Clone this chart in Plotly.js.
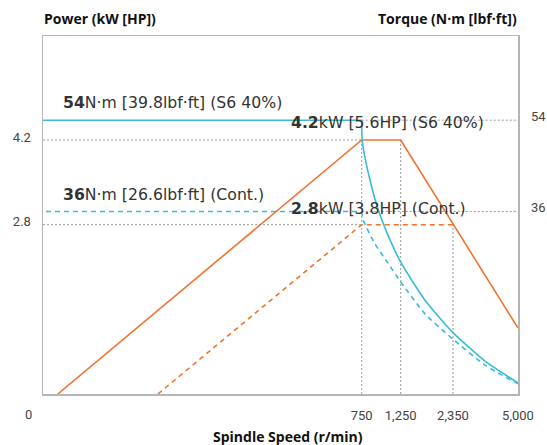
<!DOCTYPE html>
<html>
<head>
<meta charset="utf-8">
<script src="https://cdn.plot.ly/plotly-3.0.1.min.js"></script>
<style>html,body{margin:0;padding:0;background:#fff}#chart{width:547px;height:445px}</style>
</head>
<body>
<div id="chart"></div>
<script>
// ---- data ----
const tickSpeeds = [0, 750, 1250, 2350, 5000];
const tickLabels = ['0', '750', '1,250', '2,350', '5,000'];
// display scale of the (broken) speed axis, one position per tick speed
const tickScalePos = [0, 333.7, 372.7, 425, 490];

const powerTicks = [2.8, 4.2];
const torqueTicks = [36, 54];

// Power (kW) S6 40%
const powerS6Speed = [67, 750, 1250, 5000];
const powerS6Value = [0, 4.2, 4.2, 1.09];
// Power (kW) continuous
const powerContSpeed = [292, 750, 2350];
const powerContValue = [0, 2.8, 2.8];

// Torque (N·m) S6 40%
const torqueS6FlatSpeed = [0, 750];
const torqueS6FlatValue = [54, 54];
const torqueS6Speed = [750, 758, 856, 963, 1113, 1250, 1761, 2350, 3655, 5000];
const torqueS6Value = [54, 49.8, 42.2, 36.3, 30.4, 26.0, 18.5, 12.1, 6.5, 2.2];
// Torque (N·m) continuous
const torqueContFlatSpeed = [0, 750];
const torqueContFlatValue = [36, 36];
const torqueContSpeed = [750, 770, 920, 1087, 1250, 1761, 2350, 3655, 5000];
const torqueContValue = [36, 34.3, 29.6, 25.8, 22.1, 15.8, 10.8, 5.7, 2.0];

const labelTexts = [
  '<b>54</b>N·m [39.8lbf·ft] (S6 40%)',
  '<b>4.2</b>kW [5.6HP] (S6 40%)',
  '<b>36</b>N·m [26.6lbf·ft] (Cont.)',
  '<b>2.8</b>kW [3.8HP] (Cont.)'
];

// ---- scale for the broken axis ----
function toPos(s) {
  const a = tickSpeeds, p = tickScalePos;
  let i = 0;
  while (i < a.length - 2 && s > a[i + 1]) i++;
  return p[i] + (s - a[i]) / (a[i + 1] - a[i]) * (p[i + 1] - p[i]);
}
const P = arr => arr.map(toPos);

const cyan = '#38BDD6';
const orange = '#F2722E';
const FONT = '"Open Sans", Roboto, sans-serif';
const LABELFONT = '"DejaVu Sans", "Open Sans", sans-serif';
const TICKFONT = 'Roboto, "Open Sans", sans-serif';

const traces = [
  {x: P(powerS6Speed), y: powerS6Value, yaxis: 'y', mode: 'lines', line: {color: orange, width: 1.6}},
  {x: P(powerContSpeed), y: powerContValue, yaxis: 'y', mode: 'lines', line: {color: orange, width: 1.6, dash: '5px,4px'}},
  {x: P(torqueS6FlatSpeed), y: torqueS6FlatValue, yaxis: 'y2', mode: 'lines', line: {color: cyan, width: 1.6}},
  {x: P(torqueS6Speed), y: torqueS6Value, yaxis: 'y2', mode: 'lines', line: {color: cyan, width: 1.6, shape: 'spline', smoothing: 0.6}},
  {x: P(torqueContFlatSpeed), y: torqueContFlatValue, yaxis: 'y2', mode: 'lines', line: {color: cyan, width: 1.6, dash: '5px,4px'}},
  {x: P(torqueContSpeed), y: torqueContValue, yaxis: 'y2', mode: 'lines', line: {color: cyan, width: 1.6, dash: '5px,4px', shape: 'spline', smoothing: 0.6}}
];

const dot = {color: '#9a9a9a', width: 1, dash: '2px,2px'};
const xMin = 15, xMax = 490;
const shapes = [
  {type: 'line', xref: 'x', yref: 'y', x0: xMin, x1: toPos(750), y0: powerTicks[1], y1: powerTicks[1], line: dot, layer: 'below'},
  {type: 'line', xref: 'x', yref: 'y', x0: xMin, x1: toPos(750), y0: powerTicks[0], y1: powerTicks[0], line: dot, layer: 'below'},
  {type: 'line', xref: 'x', yref: 'y2', x0: toPos(750), x1: xMax, y0: torqueTicks[1], y1: torqueTicks[1], line: dot, layer: 'below'},
  {type: 'line', xref: 'x', yref: 'y2', x0: toPos(750), x1: xMax, y0: torqueTicks[0], y1: torqueTicks[0], line: dot, layer: 'below'},
  {type: 'line', xref: 'x', yref: 'y', x0: toPos(750), x1: toPos(750), y0: 0, y1: powerS6Value[1], line: dot, layer: 'below'},
  {type: 'line', xref: 'x', yref: 'y', x0: toPos(1250), x1: toPos(1250), y0: 0, y1: powerS6Value[2], line: dot, layer: 'below'},
  {type: 'line', xref: 'x', yref: 'y', x0: toPos(2350), x1: toPos(2350), y0: 0, y1: powerContValue[2], line: dot, layer: 'below'}
];

const txt = {family: LABELFONT, size: 15.7, color: '#333'};
const ttl = {family: FONT, size: 14, color: '#111'};
const annotations = [
  {text: '<b>Power (kW [HP])</b>', xref: 'paper', yref: 'paper', x: 0, y: 1, xanchor: 'left', yanchor: 'bottom', yshift: 7, showarrow: false, font: ttl},
  {text: '<b>Torque (N·m [lbf·ft])</b>', xref: 'paper', yref: 'paper', x: 1, y: 1, xanchor: 'right', yanchor: 'bottom', yshift: 7, showarrow: false, font: ttl},
  {text: '<b>Spindle Speed (r/min)</b>', xref: 'paper', yref: 'paper', x: 0.516, y: 0, xanchor: 'center', yanchor: 'middle', yshift: -42, showarrow: false, font: ttl},
  {text: tickLabels[0], xref: 'paper', yref: 'paper', x: 0, y: 0, xanchor: 'center', yanchor: 'middle', xshift: -15, yshift: -20, showarrow: false, font: {family: TICKFONT, size: 13, color: '#444'}},
  {text: labelTexts[0], xref: 'paper', yref: 'paper', x: 0.04, y: 0.813, xanchor: 'left', yanchor: 'middle', showarrow: false, font: txt},
  {text: labelTexts[1], xref: 'paper', yref: 'paper', x: 0.521, y: 0.758, xanchor: 'left', yanchor: 'middle', showarrow: false, font: txt},
  {text: labelTexts[2], xref: 'paper', yref: 'paper', x: 0.04, y: 0.557, xanchor: 'left', yanchor: 'middle', showarrow: false, font: txt},
  {text: labelTexts[3], xref: 'paper', yref: 'paper', x: 0.521, y: 0.517, xanchor: 'left', yanchor: 'middle', showarrow: false, font: txt}
];
annotations.forEach(a => { a.borderpad = 0; });

const layout = {
  width: 547, height: 445,
  margin: {l: 43, r: 29, t: 36, b: 51},
  paper_bgcolor: '#fff', plot_bgcolor: '#fff',
  showlegend: false,
  font: {family: TICKFONT, size: 13, color: '#444'},
  xaxis: {
    range: [xMin, xMax], tickvals: P(tickSpeeds.slice(1)), ticktext: tickLabels.slice(1),
    showgrid: false, zeroline: false, ticks: '', ticklabelstandoff: 9,
    showline: true, mirror: true, linecolor: '#b5b5b5', linewidth: 1.5,
    tickfont: {family: TICKFONT, size: 13, color: '#444'}, fixedrange: true
  },
  yaxis: {
    range: [0, 5.92], tickvals: powerTicks, ticktext: powerTicks.map(v => v.toFixed(1)),
    showgrid: false, zeroline: false, ticks: '', ticklabelstandoff: 8, ticklabelshift: -3,
    showline: true, mirror: true, linecolor: '#b5b5b5', linewidth: 1.5,
    tickfont: {family: TICKFONT, size: 13, color: '#444'}
  },
  yaxis2: {
    range: [0, 70.6], overlaying: 'y', side: 'right', tickvals: torqueTicks, ticktext: torqueTicks.map(String),
    showgrid: false, zeroline: false, ticks: '', ticklabelstandoff: 12, ticklabelshift: -4, showline: false,
    tickfont: {family: TICKFONT, size: 13, color: '#444'}
  },
  shapes: shapes,
  annotations: annotations
};

Plotly.newPlot('chart', traces, layout, {staticPlot: true, displayModeBar: false});
</script>
</body>
</html>
